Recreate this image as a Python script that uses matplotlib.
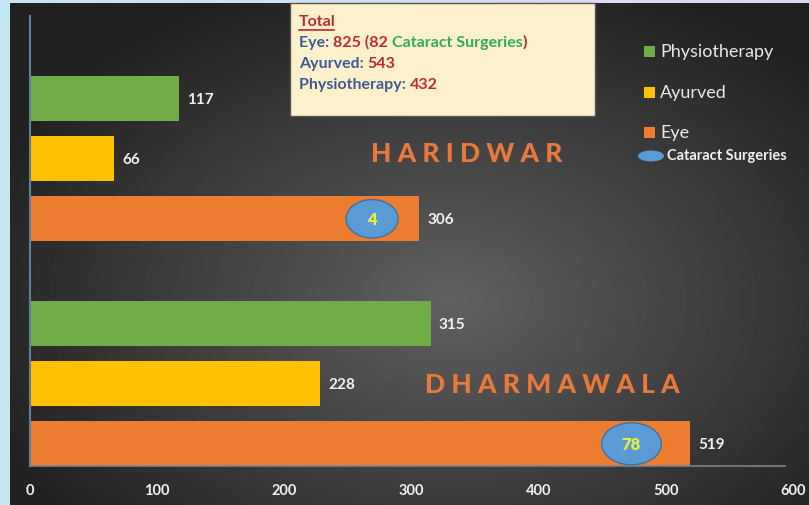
import matplotlib.pyplot as plt
import numpy as np
from matplotlib.patches import Rectangle, Ellipse

# data
places = ['Dharmawala', 'Haridwar']
services = ['Eye', 'Ayurved', 'Physiotherapy']
eye = [519, 306]
ayurved = [228, 66]
physio = [315, 117]
cataract = [78, 4]
cataract_x = [473, 269]  # where the bubble sits on the eye bar
ticks = [0, 100, 200, 300, 400, 500, 600]

colors = {'Eye': '#ed7d31', 'Ayurved': '#ffc000', 'Physiotherapy': '#70ad47'}
bubble = '#5b9bd5'

plt.rcParams['font.family'] = ['Lato', 'DejaVu Sans']

W, H = 809, 506
fig = plt.figure(figsize=(W / 100, H / 100), dpi=100)
fig.patch.set_facecolor('#c4e8f2')

# background layer in pixel coords
bg = fig.add_axes([0, 0, 1, 1])
bg.set_xlim(0, W)
bg.set_ylim(H, 0)
bg.axis('off')

# top strip, light blue to lilac
strip = np.linspace(0, 1, 256)[None, :, None]
c1 = np.array([0.78, 0.91, 0.95])
c2 = np.array([0.90, 0.84, 0.95])
bg.imshow(c1 + (c2 - c1) * strip, extent=(0, W, 5, 0), aspect='auto', zorder=0)

# dark radial gradient panel
yy, xx = np.mgrid[0:H, 0:W - 10]
d = np.sqrt(((xx - 440) / 500.0) ** 2 + ((yy - 300) / 340.0) ** 2)
g = np.clip(0.38 - 0.25 * d, 0.13, 0.4)
bg.imshow(g, cmap='gray', vmin=0, vmax=1, extent=(10, W, H, 4),
          aspect='auto', zorder=1, interpolation='bilinear')

# main chart
ax = fig.add_axes([30 / W, 1 - 467 / H, 763 / W, 450 / H])
ax.patch.set_alpha(0)
pos = {0: [0.0, 1.0, 2.0], 1: [3.75, 4.75, 5.75]}
for i, place in enumerate(places):
    vals = [eye[i], ayurved[i], physio[i]]
    for p, v, s in zip(pos[i], vals, services):
        ax.barh(p, v, height=0.75, color=colors[s], zorder=2)
        ax.annotate(str(v), (v, p), xytext=(6, 0), textcoords='offset points',
                    va='center', ha='left', color='#f2f2f2', fontsize=11,
                    fontweight='bold')
    ax.add_patch(Ellipse((cataract_x[i], pos[i][0]), 41 if i == 1 else 47,
                         0.64 if i == 1 else 0.7, facecolor=bubble,
                         edgecolor='#41719c', lw=1, zorder=3))
    ax.text(cataract_x[i], pos[i][0], str(cataract[i]), ha='center', va='center',
            color='#e4ee3c', fontsize=12, fontweight='heavy', zorder=4)

ax.set_xlim(0, 600)
ax.set_ylim(-0.37, 7.13)
ax.set_xticks(ticks)
ax.set_xticklabels([str(t) for t in ticks], fontweight='bold')
ax.set_yticks([])
ax.tick_params(axis='x', length=0, pad=12, colors='#f0f0f0', labelsize=10.5)
for s in ['top', 'right']:
    ax.spines[s].set_visible(False)
ax.spines['left'].set_color('#5f7f9f')
ax.spines['left'].set_linewidth(1.5)
ax.spines['bottom'].set_color('#7c8090')
ax.spines['bottom'].set_linewidth(1.2)
ax.spines['bottom'].set_bounds(0, 594)

# place names
bg.text(467, 154, 'H A R I D W A R', color='#e8793a', fontsize=19,
        fontweight='black', ha='center', va='center', zorder=5)
bg.text(552, 385, 'D H A R M A W A L A', color='#e8793a', fontsize=19,
        fontweight='black', ha='center', va='center', zorder=5)

# totals box
bg.add_patch(Rectangle((290, 4), 305, 113, facecolor='#fdf1cc',
                       edgecolor='#555555', lw=1, zorder=5))
blue = '#3d5a96'
red = '#c0282d'
green = '#2fae55'
lines = [
    [('Total', red)],
    [('Eye: ', blue), ('825 (82 ', red), ('Cataract Surgeries', green), (')', red)],
    [('Ayurved: ', blue), ('543', red)],
    [('Physiotherapy: ', blue), ('432', red)],
]
ys = [22, 43, 64, 85]
for y, parts in zip(ys, lines):
    t = bg.text(299, y, parts[0][0], color=parts[0][1], fontsize=11.5,
                fontweight='bold', va='center', ha='left', zorder=6)
    for txt, col in parts[1:]:
        t = bg.annotate(txt, xy=(1, 0), xycoords=t, va='bottom', ha='left',
                        color=col, fontsize=11.5, fontweight='bold', zorder=6)
bg.plot([299, 334], [31, 31], color=red, lw=1.2, zorder=6)

# legend
leg = [('Physiotherapy', 52), ('Ayurved', 93), ('Eye', 133)]
for name, y in leg:
    bg.add_patch(Rectangle((644, y - 5.5), 11, 11, facecolor=colors[name],
                           edgecolor='none', zorder=5))
    bg.text(660, y, name, color='#e8e8e8', fontsize=13, va='center',
            ha='left', zorder=5)
bg.add_patch(Ellipse((651, 157), 26, 11, facecolor=bubble, edgecolor='none',
                     zorder=5))
bg.text(667, 156, 'Cataract Surgeries', color='#f0f0f0', fontsize=10.5,
        fontweight='bold', va='center', ha='left', zorder=5)

fig.savefig('out.png', dpi=100, facecolor=fig.get_facecolor())
